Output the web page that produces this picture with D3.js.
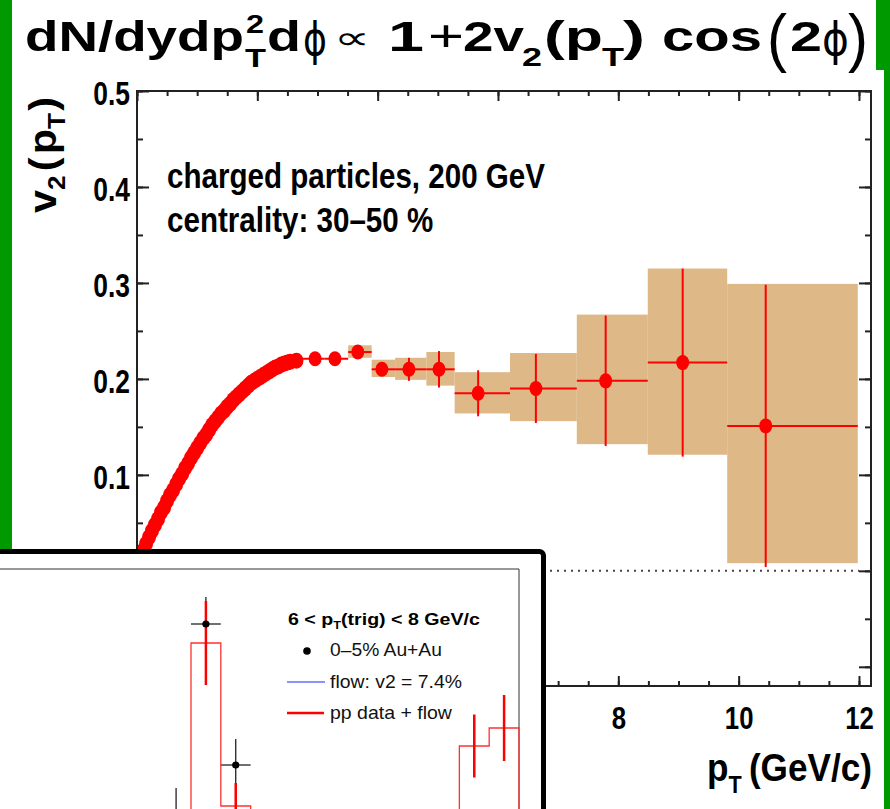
<!DOCTYPE html>
<html>
<head>
<meta charset="utf-8">
<script src="https://cdn.jsdelivr.net/npm/d3@7"></script>
<style>
  html, body { margin: 0; padding: 0; background: #fff; }
  svg { display: block; }
</style>
</head>
<body>
<div id="chart"></div>
<script>
// ---- main plot: v2(pT), charged particles 200 GeV, 30-50 % ----
const bandPt = [0.10, 0.15, 0.20, 0.25, 0.30, 0.35, 0.40, 0.45, 0.50, 0.55, 0.60, 0.65, 0.70, 0.75, 0.80,
                0.85, 0.90, 0.95, 1.00, 1.05, 1.10, 1.15, 1.20, 1.25, 1.30, 1.35, 1.40, 1.45, 1.50, 1.55,
                1.60, 1.65, 1.70, 1.75, 1.80, 1.85, 1.90, 1.95, 2.00, 2.05, 2.10, 2.15, 2.20, 2.25, 2.30,
                2.35, 2.40, 2.45, 2.50, 2.55, 2.65];
const bandV2 = [0.021, 0.028, 0.035, 0.042, 0.048, 0.054, 0.061, 0.066, 0.073, 0.079, 0.084, 0.090, 0.096, 0.101, 0.107,
                0.112, 0.118, 0.123, 0.128, 0.133, 0.138, 0.142, 0.147, 0.152, 0.156, 0.160, 0.164, 0.167, 0.171, 0.174,
                0.178, 0.181, 0.184, 0.187, 0.190, 0.193, 0.196, 0.198, 0.200, 0.202, 0.204, 0.206, 0.208, 0.210, 0.212,
                0.213, 0.215, 0.216, 0.217, 0.218, 0.219];

// high pT points with stat bars and systematic boxes
const hiPt   = [2.96, 3.29, 3.67, 4.07, 4.52, 5.02, 5.67, 6.63, 7.79, 9.07, 10.45];
const hiV2   = [0.221, 0.221, 0.228, 0.210, 0.210, 0.210, 0.185, 0.190, 0.198, 0.217, 0.151];
const hiLo   = [2.76, 3.12, 3.51, 3.90, 4.29, 4.81, 5.28, 6.20, 7.31, 8.49, 9.81];
const hiHi   = [3.12, 3.51, 3.90, 4.29, 4.81, 5.28, 6.20, 7.31, 8.49, 9.81, 11.98];
const hiStat = [0.004, 0.004, 0.006, 0.007, 0.012, 0.019, 0.024, 0.036, 0.068, 0.098, 0.147];
const sysLo  = [null, null, 0.222, 0.202, 0.199, 0.193, 0.164, 0.156, 0.132, 0.121, 0.008];
const sysHi  = [null, null, 0.235, 0.220, 0.222, 0.228, 0.207, 0.227, 0.267, 0.315, 0.299];

const xMajor = [0, 2, 4, 6, 8, 10, 12];
const xLabels = ["", "", "", "", "8", "10", "12"];   // 0..6 sit under the inset
const yMajor = [-0.1, 0, 0.1, 0.2, 0.3, 0.4, 0.5];
const yLabels = ["", "", "0.1", "0.2", "0.3", "0.4", "0.5"];

// ---- inset: 6 < pT(trig) < 8 GeV/c azimuthal correlation ----
const binIdx = [-1, 0, 1, 2, 3, 4, 5, 6, 7, 8, 9, 10];
const ppFlow = [0.060, 0.266, 0.103, 0.062, 0.055, 0.052, 0.050, 0.052, 0.056, 0.062, 0.163, 0.181];
const ppErr  = [0.020, 0.042, 0.023, 0.020, 0.020, 0.020, 0.020, 0.020, 0.020, 0.022, 0.0315, 0.033];
const auau   = [0.093, 0.285, 0.144, 0.050, 0.040, 0.035, 0.030, 0.030, 0.035, 0.040, 0.045, 0.050];
const auErr  = [0.028, 0.027, 0.026, 0.020, 0.020, 0.020, 0.020, 0.020, 0.020, 0.020, 0.020, 0.020];
const legendRows = ["0\u20135% Au+Au", "flow: v2 = 7.4%", "pp data + flow"];

const W = 890, H = 809;
const sans = '"Liberation Sans", Arial, Helvetica, sans-serif';
const sym = '"DejaVu Sans", sans-serif';
const green = "#009a00", tan = "#deb887", red = "#ff0000", ink = "#222";

const svg = d3.select("#chart").append("svg")
    .attr("width", W).attr("height", H);

// green page frame
svg.append("rect").attr("width", W).attr("height", H).attr("fill", green);
svg.append("rect").attr("x", 12).attr("y", 0).attr("width", 864).attr("height", 71).attr("fill", "#fff");
svg.append("rect").attr("x", 12).attr("y", 70).attr("width", 872).attr("height", H - 70).attr("fill", "#fff");

// place text pieces side by side, returns total advance
function layPieces(g, pieces) {
    let cx = 0;
    pieces.forEach(p => {
        const t = g.append("text")
            .attr("x", cx).attr("y", p.dy || 0)
            .attr("font-family", p.family || sans)
            .attr("font-size", p.size)
            .attr("font-weight", p.bold === false ? "normal" : "bold")
            .attr("fill", "#000")
            .text(p.t);
        const w = t.node().getComputedTextLength();
        if (!p.stack) cx += w + (p.gap || 0);
    });
    return cx;
}

// one text squeezed/stretched between x0 and x1
function fitText(parent, p) {
    const g = parent.append("g");
    const t = g.append("text")
        .attr("font-family", p.family || sans)
        .attr("font-size", p.size)
        .attr("font-weight", p.bold === false ? "normal" : "bold")
        .attr("fill", "#000")
        .text(p.t);
    const k = (p.x1 - p.x0) / t.node().getComputedTextLength();
    g.attr("transform", `translate(${p.x0},${p.y}) scale(${k},1)`);
}

// ---- title ----
const title = svg.append("g");
[
    { t: "dN/dydp", size: 43, x0: 25, x1: 244, y: 51 },
    { t: "2", size: 26, x0: 246, x1: 264, y: 33 },
    { t: "T", size: 26, x0: 245, x1: 266, y: 67 },
    { t: "d", size: 43, x0: 267, x1: 301, y: 51 },
    { t: "\u03d5", size: 46, bold: false, family: sym, x0: 303, x1: 327, y: 55 },
    { t: "\u221d", size: 32, bold: false, family: sym, x0: 334, x1: 370, y: 49 },
    { t: "1", size: 43, x0: 388, x1: 424, y: 51 },
    { t: "+", size: 44, bold: false, x0: 428, x1: 464, y: 51 },
    { t: "2v", size: 43, x0: 463, x1: 524, y: 51 },
    { t: "2", size: 26, x0: 522, x1: 542, y: 66 },
    { t: "(p", size: 43, x0: 544, x1: 603, y: 51 },
    { t: "T", size: 26, x0: 602, x1: 624, y: 66 },
    { t: ")", size: 43, x0: 623, x1: 645, y: 51 },
    { t: "cos", size: 43, x0: 662, x1: 762, y: 51 },
    { t: "(", size: 64, bold: false, x0: 767, x1: 787, y: 60 },
    { t: "2", size: 43, x0: 790, x1: 822, y: 51 },
    { t: "\u03d5", size: 46, bold: false, family: sym, x0: 822, x1: 849, y: 55 },
    { t: ")", size: 64, bold: false, x0: 848, x1: 868, y: 60 }
].forEach(p => fitText(title, p));

// ---- main plot ----
const x = d3.scaleLinear().domain([0, 12.2]).range([137, 871]);
const y = d3.scaleLinear().domain([-0.12, 0.5]).range([686, 91]);

const plot = svg.append("g");

// systematic boxes
hiPt.forEach((p, i) => {
    if (sysLo[i] === null) return;
    plot.append("rect")
        .attr("x", x(hiLo[i])).attr("width", x(hiHi[i]) - x(hiLo[i]))
        .attr("y", y(sysHi[i])).attr("height", y(sysLo[i]) - y(sysHi[i]))
        .attr("fill", tan);
});

// zero line
plot.append("line")
    .attr("x1", x(0)).attr("x2", x(12)).attr("y1", y(0)).attr("y2", y(0))
    .attr("stroke", "#444").attr("stroke-width", 2).attr("stroke-dasharray", "2,5");

// stat bars
hiPt.forEach((p, i) => {
    plot.append("line")
        .attr("x1", x(hiLo[i])).attr("x2", x(hiHi[i]))
        .attr("y1", y(hiV2[i])).attr("y2", y(hiV2[i]))
        .attr("stroke", red).attr("stroke-width", 2);
    plot.append("line")
        .attr("x1", x(p)).attr("x2", x(p))
        .attr("y1", y(hiV2[i] + hiStat[i])).attr("y2", y(hiV2[i] - hiStat[i]))
        .attr("stroke", red).attr("stroke-width", 2);
});

// markers
plot.selectAll(".band").data(bandPt).enter().append("ellipse")
    .attr("cx", d => x(d)).attr("cy", (d, i) => y(bandV2[i]))
    .attr("rx", 7).attr("ry", 8).attr("fill", red);
plot.selectAll(".hi").data(hiPt).enter().append("ellipse")
    .attr("cx", d => x(d)).attr("cy", (d, i) => y(hiV2[i]))
    .attr("rx", 6.5).attr("ry", 7.5).attr("fill", red);

// axes
const xMinor = d3.range(0, 12.01, 0.5);
const yMinor = d3.range(-0.1, 0.501, 0.05);

function styleAxis(g) {
    g.select(".domain").remove();
    g.selectAll(".tick line").attr("stroke", ink).attr("stroke-width", 2);
    g.attr("font-family", sans).attr("font-weight", "bold");
    g.selectAll("text").attr("fill", "#000");
}

plot.append("g").attr("transform", `translate(0,${y.range()[0]})`)
    .call(d3.axisBottom(x).tickValues(xMinor).tickSize(-5).tickFormat(""))
    .call(styleAxis);
const xAx = plot.append("g").attr("transform", `translate(0,${y.range()[0]})`)
    .call(d3.axisBottom(x).tickValues(xMajor).tickSize(-10).tickPadding(21)
        .tickFormat((d, i) => xLabels[i]))
    .call(styleAxis);
xAx.attr("font-size", 31);
xAx.selectAll("text").attr("transform", "scale(0.83,1)");

plot.append("g").attr("transform", `translate(0,${y.range()[1]})`)
    .call(d3.axisTop(x).tickValues(xMinor).tickSize(-5).tickFormat(""))
    .call(styleAxis);
plot.append("g").attr("transform", `translate(0,${y.range()[1]})`)
    .call(d3.axisTop(x).tickValues(xMajor).tickSize(-10).tickFormat(""))
    .call(styleAxis);

plot.append("g").attr("transform", `translate(${x.range()[0]},0)`)
    .call(d3.axisLeft(y).tickValues(yMinor).tickSize(-6).tickFormat(""))
    .call(styleAxis);
const yAx = plot.append("g").attr("transform", `translate(${x.range()[0]},0)`)
    .call(d3.axisLeft(y).tickValues(yMajor).tickSize(-12).tickPadding(7)
        .tickFormat((d, i) => yLabels[i]))
    .call(styleAxis);
yAx.attr("font-size", 33);
yAx.selectAll("text").attr("x", -7 / 0.8).attr("dy", "0.42em")
    .attr("transform", "scale(0.8,1)");

plot.append("g").attr("transform", `translate(${x.range()[1]},0)`)
    .call(d3.axisRight(y).tickValues(yMinor).tickSize(-6).tickFormat(""))
    .call(styleAxis);
plot.append("g").attr("transform", `translate(${x.range()[1]},0)`)
    .call(d3.axisRight(y).tickValues(yMajor).tickSize(-12).tickFormat(""))
    .call(styleAxis);

plot.append("rect")
    .attr("x", x.range()[0]).attr("y", y.range()[1])
    .attr("width", x.range()[1] - x.range()[0]).attr("height", y.range()[0] - y.range()[1])
    .attr("fill", "none").attr("stroke", ink).attr("stroke-width", 2);

// axis titles
const yTitle = plot.append("g");
const yTitleW = layPieces(yTitle, [
    { t: "v", size: 38 },
    { t: "2", size: 24, dy: 9, gap: 4 },
    { t: "(", size: 38, gap: 3 },
    { t: "p", size: 38 },
    { t: "T", size: 24, dy: 9, gap: 2 },
    { t: ")", size: 38 }
]);
yTitle.attr("transform", `translate(56,155) rotate(-90) scale(${116 / yTitleW},1) translate(${-yTitleW / 2},0)`);

const xTitle = plot.append("g");
const xTitleW = layPieces(xTitle, [
    { t: "p", size: 39 },
    { t: "T", size: 24, dy: 12, gap: 8 },
    { t: "(GeV/c)", size: 39 }
]);
xTitle.attr("transform", `translate(872,781) scale(${165 / xTitleW},1) translate(${-xTitleW},0)`);

// annotation
const note = plot.append("g").attr("font-family", sans).attr("font-weight", "bold").attr("font-size", 36);
const n1 = note.append("text").attr("x", 0).attr("y", 0).text("charged particles, 200 GeV");
note.append("text").attr("x", 0).attr("y", 44).text("centrality: 30\u201350 %");
const noteK = 378 / n1.node().getComputedTextLength();
note.attr("transform", `translate(167,188) scale(${noteK},1)`);

// ---- inset ----
const inset = svg.append("g");
inset.append("rect")
    .attr("x", -10).attr("y", 551.5).attr("width", 553.5).attr("height", 300).attr("rx", 4)
    .attr("fill", "#fff").attr("stroke", "#000").attr("stroke-width", 5);

const xi = d3.scaleLinear().domain([-0.5, 10.5]).range([191, 519]);
const yi = d3.scaleLinear().domain([0, 0.34]).range([909, 569]);
const half = 0.5;

inset.append("path")
    .attr("d", `M-20,${yi(0.34)} H${xi(10.5)} V${H + 20}`)
    .attr("fill", "none").attr("stroke", "#333").attr("stroke-width", 1);

// Au+Au error bars (under the pp histogram)
binIdx.forEach((b, i) => {
    inset.append("line").attr("x1", xi(b - half)).attr("x2", xi(b + half))
        .attr("y1", yi(auau[i])).attr("y2", yi(auau[i]))
        .attr("stroke", "#222").attr("stroke-width", 1.3);
    inset.append("line").attr("x1", xi(b)).attr("x2", xi(b))
        .attr("y1", yi(auau[i] + auErr[i])).attr("y2", yi(auau[i] - auErr[i]))
        .attr("stroke", "#222").attr("stroke-width", 1.3);
});

// pp + flow histogram outline
const histPts = [[xi(binIdx[0] - half), yi(0)]];
binIdx.forEach((b, i) => {
    histPts.push([xi(b - half), yi(ppFlow[i])]);
    histPts.push([xi(b + half), yi(ppFlow[i])]);
});
histPts.push([xi(binIdx[binIdx.length - 1] + half), yi(0)]);
inset.append("path")
    .attr("d", d3.line()(histPts))
    .attr("fill", "none").attr("stroke", "#ff3030").attr("stroke-width", 1.3);

binIdx.forEach((b, i) => {
    inset.append("line").attr("x1", xi(b)).attr("x2", xi(b))
        .attr("y1", yi(ppFlow[i] + ppErr[i])).attr("y2", yi(ppFlow[i] - ppErr[i]))
        .attr("stroke", red).attr("stroke-width", 2.5);
});

inset.selectAll(".au").data(binIdx).enter().append("circle")
    .attr("cx", d => xi(d)).attr("cy", (d, i) => yi(auau[i]))
    .attr("r", 3.6).attr("fill", "#000");

// inset legend
const legTitle = inset.append("g");
const legTitleW = layPieces(legTitle, [
    { t: "6 < p", size: 17 },
    { t: "T", size: 11, dy: 4 },
    { t: "(trig) < 8 GeV/c", size: 17 }
]);
legTitle.attr("transform", `translate(288,625) scale(${192 / legTitleW},1)`);

const rowY = [656, 688, 719];
const rowW = [112, 132, 122];
legendRows.forEach((txt, i) => {
    const g = inset.append("g");
    const t = g.append("text").attr("font-family", sans).attr("font-size", 17.5)
        .attr("fill", "#111").text(txt);
    const k = rowW[i] / t.node().getComputedTextLength();
    g.attr("transform", `translate(330,${rowY[i]}) scale(${k},1)`);
});
inset.append("circle").attr("cx", 307).attr("cy", 651).attr("r", 3.8).attr("fill", "#000");
inset.append("line").attr("x1", 287).attr("x2", 325).attr("y1", 682).attr("y2", 682)
    .attr("stroke", "#2020ff").attr("stroke-width", 1);
inset.append("line").attr("x1", 287).attr("x2", 324).attr("y1", 713).attr("y2", 713)
    .attr("stroke", red).attr("stroke-width", 2.5);
</script>
</body>
</html>
